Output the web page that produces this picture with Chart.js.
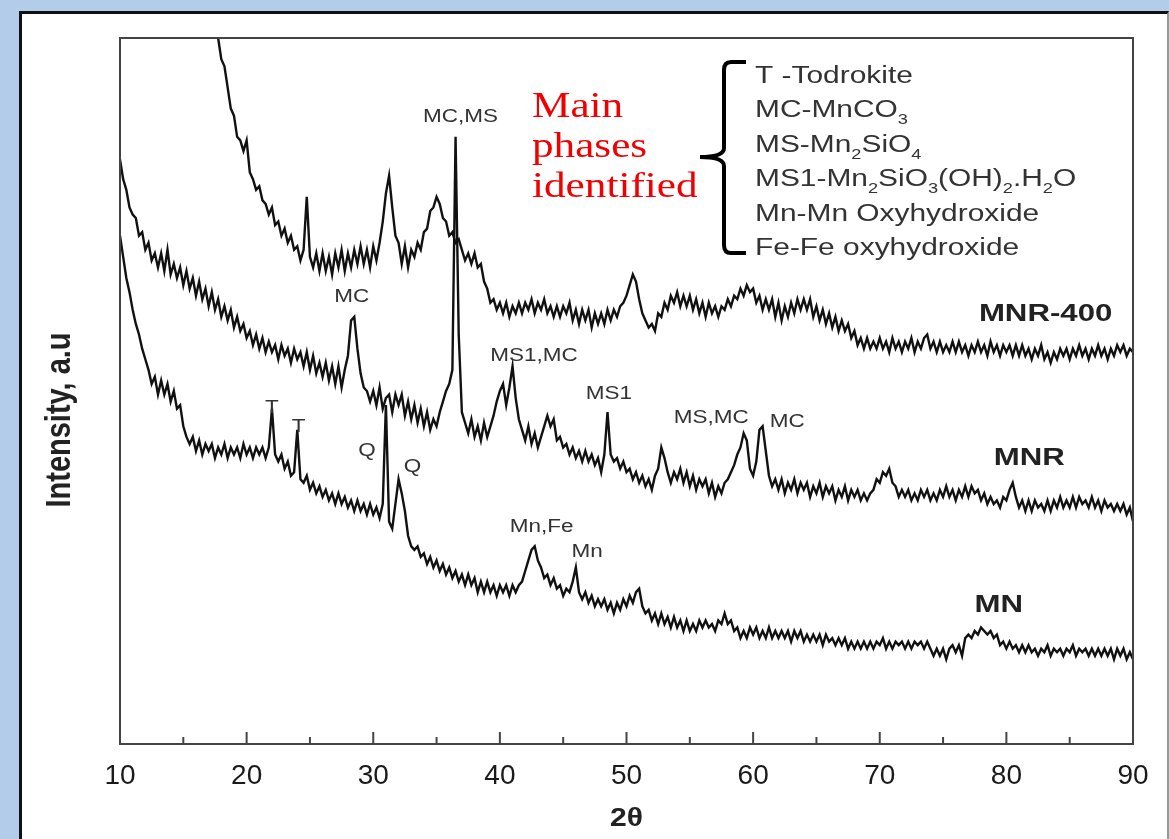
<!DOCTYPE html>
<html lang="en">
<head>
    <meta charset="UTF-8">
    <title>XRD patterns - MN, MNR, MNR-400</title>
    <script src="https://cdn.jsdelivr.net/npm/chart.js"></script>
    <style>
        body { margin: 0; background: #b3cce9; width: 1169px; height: 839px; overflow: hidden; }
        .panel { position: absolute; left: 19px; top: 11px; width: 1145px; height: 840px; background: #fff;
                 border-left: 3px solid #111; border-top: 3px solid #111; border-right: 2px solid #999; }
        .wrap { position: absolute; left: 0; top: 0; width: 1169px; height: 839px; }
    </style>
</head>
<body>
    <div class="panel"></div>
    <div class="wrap"><canvas id="xrdChart"></canvas></div>

    <script>
        // 2-theta grid, 0.25 deg steps from 10 to 90
        const twoTheta = Array.from({ length: 321 }, (_, i) => 10 + i * 0.25);

        // intensities (a.u.), one value per grid step
        const mnr400 = [
            null, null, null, null, null, null, null, null,
            null, null, null, null, null, null, null, null,
            null, null, null, null, null, null, null, null,
            null, null, null, null, null, null, 104, 100,
            97, 96, 93, 90, 89, 86, 85.5, 84,
            85.5, 81, 80, 78.5, 79, 77, 76.5, 75,
            76, 73.5, 74, 72, 73, 71, 72, 70,
            70.5, 68.5, 70, 77.5, 69, 67.5, 69.5, 67,
            69.5, 67, 69, 66.5, 69.5, 67.5, 70, 67,
            69.5, 67.5, 70, 68, 70.5, 68, 70, 67.5,
            70.5, 68.5, 71, 74, 78, 80.5, 76, 72,
            71, 68, 70.5, 67.5, 70, 69, 71, 70,
            72.5, 73, 75.5, 76, 77.5, 76.5, 74.5, 74,
            72, 72.5, 71, 71.5, 70, 68.5, 69.5, 68,
            69.5, 67.5, 68, 65.5, 64.5, 62.5, 63, 61.5,
            62.5, 61, 62.5, 60.5, 62, 61, 62.5, 61,
            62.5, 61.5, 63, 61, 62.5, 61.5, 63, 61,
            62, 60.5, 62, 60.5, 62, 61, 62.5, 60,
            61.5, 59.5, 61.5, 60, 61.5, 59, 61, 59.5,
            61, 59.5, 61.5, 60, 61.5, 60.5, 62, 62.5,
            63.5, 65, 66.5, 65.5, 63, 61, 60, 59,
            59.5, 58.5, 61, 60.5, 62.5, 61.5, 63.5, 62.5,
            64, 62, 63.5, 62, 63.5, 61.5, 63, 61,
            62.5, 60.5, 62.5, 61, 62, 60.5, 62, 61.5,
            63, 62, 63.5, 63, 64.5, 63.5, 65, 64,
            64.5, 62.5, 63.5, 61.5, 63, 61.5, 63, 60.5,
            62.5, 60, 62, 60.5, 62.5, 61, 63, 61.5,
            63, 61.5, 63, 60.5, 62, 60, 61.5, 59.5,
            61, 59, 60.5, 58.5, 60, 58.5, 59.5, 57.5,
            58.5, 56.5, 57.5, 56, 57.5, 56, 57, 56,
            57.5, 56, 57, 55.5, 57.5, 56, 57, 55.5,
            57, 56, 57.5, 55.5, 57, 56, 57.5, 58,
            56, 57, 55.5, 57, 55.5, 56.5, 55.5, 57,
            55.5, 57, 55.5, 56.5, 55, 56.5, 55.5, 57,
            55.5, 56.5, 55, 57, 55.5, 56.5, 55, 56.5,
            55.5, 56.5, 55, 56.5, 55, 56.5, 55, 56,
            54.5, 56, 55, 56.5, 54.5, 55.5, 54, 55.5,
            54.5, 56, 55, 56, 54.5, 56, 55, 56.5,
            55, 56, 54.5, 56, 55, 56.5, 55, 56,
            54.5, 56, 55, 56.5, 55.5, 56.5, 55, 56,
            55.5
        ];

        const mnr = [
            82.8, 80, 78.5, 76, 75, 74.5, 72, 72.5,
            70, 71, 68.5, 69.5, 67.5, 69.5, 67, 70,
            66.5, 68, 66, 67.5, 65, 67, 64.5, 66,
            63.5, 65.5, 63, 64.5, 62, 64, 61.5, 63,
            60.5, 62, 60, 61.5, 59, 60.5, 58.5, 59.5,
            57.5, 58.5, 56.5, 58, 56, 57.5, 55.5, 57,
            55.5, 56.5, 54.5, 56.5, 55, 56, 54, 56,
            54.5, 55.5, 53.5, 55.5, 53, 55, 52.5, 54,
            52, 54, 51.5, 53.5, 51, 53.5, 50.5, 53,
            55, 60, 60.5, 56, 52.5, 50.5, 50, 48.5,
            50, 48, 50.5, 47.5, 49, 49.5, 47, 49.5,
            48, 49.5, 46.5, 48.5, 46, 48, 45.5, 47.5,
            45, 47, 44.5, 46, 45, 47, 48.5, 50,
            51, 53, 86, 58, 47, 45.5, 44, 46,
            43.5, 45, 43, 45.5, 43.5, 45, 46.5, 48.5,
            50, 51, 48, 50.5, 53.5, 49, 46, 44.5,
            43, 45, 42.5, 44, 42, 43.5, 45, 46.5,
            45, 46, 43, 43.5, 42, 42.5, 41, 42,
            40.5, 41.5, 40, 41.5, 40, 41, 39.5, 40.5,
            38.5, 41, 47, 41, 40, 40.5, 39, 40,
            38.5, 39, 37.5, 38.5, 37, 38, 36.5, 37.5,
            36, 38, 39, 42, 40.5, 38.5, 37, 38.5,
            37.5, 39, 37, 38.5, 36.5, 38, 36, 37.5,
            36.5, 37.5, 35.5, 37, 35, 36.5, 35.5, 37,
            37.5, 38.5, 39.5, 41, 42, 44, 43, 39,
            38, 40, 44.5, 45, 41.5, 38, 36.5, 37.5,
            36, 37.5, 35.5, 37, 36, 37.5, 35.5, 37,
            36, 37, 35, 36.5, 35.5, 37, 35, 36.5,
            35.5, 36.5, 34.5, 36, 35, 36.5, 34.5, 36,
            35, 36, 34.5, 35.5, 34.5, 35.5, 36, 37.5,
            37, 38.5, 38, 39, 37, 36.5, 35, 36,
            35, 36, 34.5, 35.5, 34.5, 36, 35, 36,
            34.5, 35.5, 34.5, 36, 35, 36.5, 35, 36,
            34.5, 36, 35, 36.5, 35, 36.5, 35.5, 36,
            34.5, 35.5, 34, 35, 34, 34.5, 33.5, 35,
            34.5, 36, 37, 35, 33.5, 34.5, 33, 34.5,
            33, 34.5, 33.5, 34, 33, 34.5, 33, 34.5,
            33.5, 35, 33.5, 34.5, 33.5, 35, 33.5, 35,
            34, 34.5, 33.5, 35, 33.5, 34.5, 33, 34.5,
            33.5, 34, 33, 34, 33, 34, 32.5, 33.5,
            31.5
        ];

        const mn = [
            72, 69, 66, 64, 61.5, 59.5, 58, 56,
            54.5, 53, 51, 52, 49.5, 51.5, 49.5, 51,
            48.5, 50, 47.5, 48, 45, 43.5, 42.5, 43.5,
            41.5, 43, 41, 42.5, 41.5, 42.5, 40.5, 42,
            41, 42.5, 40.5, 42, 41, 42, 40.5, 42.5,
            41, 42, 40.5, 42, 41, 42, 40.5, 42,
            47.5, 41, 40, 41, 39, 40, 38, 38.5,
            44.5, 37.5, 37, 38, 36, 37, 35.5, 36.5,
            35, 36, 34.5, 35.5, 34, 35.5, 34, 35,
            33.5, 34.5, 33, 34.5, 33, 34, 32.5, 34,
            32.5, 33.5, 32, 34, 48, 31.5, 30.5, 34,
            37.5, 35.5, 33, 29.5, 28, 27.5, 28, 26.5,
            27, 25.5, 26.5, 25, 26, 24.5, 25.5, 24,
            25, 23.5, 24.5, 23, 24, 22.5, 24, 22.5,
            23.5, 21.5, 23, 21.5, 23, 21.5, 22.5, 21,
            22.5, 21.5, 22.5, 21, 22.5, 21.5, 22.5, 23,
            24.5, 26, 27.5, 28, 26, 25, 23.5, 24,
            22.5, 23.5, 22, 22.5, 21, 22, 21.5, 23,
            25, 21.5, 20.5, 21.5, 20, 21, 19.5, 20.5,
            19.5, 20.5, 19, 20, 18.5, 20, 19, 20.5,
            19.5, 21, 20, 21.5, 22, 19.5, 18.5, 19,
            17.5, 18.5, 17, 18.5, 17, 18, 16.5, 18,
            16.5, 17.5, 16, 17.5, 16, 17, 16, 17.5,
            16.5, 17.5, 16.5, 17, 16, 17.5, 17, 18.5,
            17, 17.5, 16, 16.5, 15, 16, 15, 16.5,
            15.5, 16.5, 15, 16, 15, 16.5, 15, 16,
            15, 16, 15, 16, 14.5, 16, 15, 16,
            14.5, 15.5, 14.5, 15.5, 14.5, 15.5, 14, 15.5,
            14.5, 15, 14, 15, 14, 15, 13.5, 14.5,
            13.5, 14.5, 13.5, 14.5, 13.5, 14.5, 13.5, 14.5,
            14, 15, 13.5, 14.5, 13.5, 14.5, 14, 14.5,
            13.5, 14.5, 13.5, 14.5, 14, 14.5, 13.5, 14.5,
            13.5, 12.5, 13.5, 12.5, 13.5, 12, 13.5, 14,
            13, 14, 12.5, 15, 15.5, 15, 16, 15.5,
            16.5, 16, 15.5, 16, 15, 15.5, 14, 14.5,
            13.5, 14.5, 13.5, 14, 13, 14, 13, 14,
            13, 13.5, 12.5, 13.5, 13, 14, 12.5, 13.5,
            13, 13.5, 12.5, 13.5, 13, 14, 12.5, 13.5,
            13, 13.5, 12.5, 13.5, 12.5, 13.5, 12.5, 13.5,
            12.5, 13.5, 12, 13.5, 12.5, 13.5, 12, 13,
            12
        ];

        const xTicks = [10, 20, 30, 40, 50, 60, 70, 80, 90];

        // peak labels: [text, 2theta, intensity]
        const peakLabels = [
            ["MC,MS", 36.9, 88.8], ["MC", 28.3, 63.3], ["MS1,MC", 42.7, 55.0], ["MS1", 48.6, 49.6],
            ["MS,MC", 56.7, 46.2], ["MC", 62.7, 45.6], ["T", 22.0, 47.6], ["T", 24.1, 44.9],
            ["Q", 29.5, 41.5], ["Q", 33.1, 39.2], ["Mn,Fe", 43.3, 30.7], ["Mn", 46.9, 27.2]
        ];
        const sampleLabels = [["MNR-400", 83.1, 60.9], ["MNR", 81.8, 40.5], ["MN", 79.4, 19.7]];

        // phase key; second item 1 = subscript
        const phaseLines = [
            [["T -Todrokite"]],
            [["MC-MnCO"], ["3", 1]],
            [["MS-Mn"], ["2", 1], ["SiO"], ["4", 1]],
            [["MS1-Mn"], ["2", 1], ["SiO"], ["3", 1], ["(OH)"], ["2", 1], [".H"], ["2", 1], ["O"]],
            [["Mn-Mn Oxyhydroxide"]],
            [["Fe-Fe oxyhydroxide"]]
        ];
        const redNote = ["Main", "phases", "identified"];

        const SANS = '"Liberation Sans", Arial, sans-serif';
        const SERIF = '"Liberation Serif", "Times New Roman", serif';

        function wideText(ctx, text, x, y, font, color, sx, align) {
            ctx.save();
            ctx.font = font;
            ctx.fillStyle = color;
            ctx.textAlign = align || "center";
            ctx.textBaseline = "middle";
            ctx.translate(x, y);
            ctx.scale(sx, 1);
            ctx.fillText(text, 0, 0);
            ctx.restore();
        }

        const decor = {
            id: "decor",
            afterDraw(chart) {
                const { ctx, chartArea: a, scales: { x, y } } = chart;
                ctx.save();

                // plot frame + inward ticks
                ctx.strokeStyle = "#444";
                ctx.lineWidth = 2;
                ctx.strokeRect(a.left, a.top, a.right - a.left, a.bottom - a.top);
                for (let t = 15; t < 90; t += 5) {
                    const px = x.getPixelForValue(t);
                    ctx.beginPath();
                    ctx.moveTo(px, a.bottom);
                    ctx.lineTo(px, a.bottom - (t % 10 === 0 ? 12 : 7));
                    ctx.stroke();
                }

                // axis titles
                ctx.save();
                ctx.translate(60, 420);
                ctx.scale(1.2, 1);
                ctx.rotate(-Math.PI / 2);
                ctx.font = "bold 29px " + SANS;
                ctx.fillStyle = "#222";
                ctx.textAlign = "center";
                ctx.textBaseline = "middle";
                ctx.fillText("Intensity, a.u", 0, 0);
                ctx.restore();
                wideText(ctx, "2θ", x.getPixelForValue(50), 819, "bold 25px " + SANS, "#222", 1.2);

                // peak and sample labels
                peakLabels.forEach(([t, tx, ty]) => {
                    wideText(ctx, t, x.getPixelForValue(tx), y.getPixelForValue(ty), "18px " + SANS, "#333", 1.25);
                });
                sampleLabels.forEach(([t, tx, ty]) => {
                    wideText(ctx, t, x.getPixelForValue(tx), y.getPixelForValue(ty), "bold 24px " + SANS, "#222", 1.3);
                });

                // red note
                redNote.forEach((t, i) => {
                    ctx.save();
                    ctx.font = "36px " + SERIF;
                    ctx.fillStyle = "#f00000";
                    ctx.textBaseline = "alphabetic";
                    ctx.translate(532, 117 + i * 40);
                    ctx.scale(1.2, 1);
                    ctx.fillText(t, 0, 0);
                    ctx.restore();
                });

                // brace
                ctx.strokeStyle = "#000";
                ctx.lineWidth = 4;
                ctx.beginPath();
                ctx.moveTo(746, 62); ctx.lineTo(731, 62);
                ctx.quadraticCurveTo(724, 62, 724, 70);
                ctx.lineTo(724, 148);
                ctx.quadraticCurveTo(724, 157, 700, 157);
                ctx.quadraticCurveTo(724, 157, 724, 166);
                ctx.lineTo(724, 245);
                ctx.quadraticCurveTo(724, 253, 731, 253);
                ctx.lineTo(746, 253);
                ctx.stroke();

                // phase key
                const sx = 1.3;
                phaseLines.forEach((parts, i) => {
                    let cx = 755;
                    const base = 83 + i * 34.4;
                    parts.forEach(([t, sub]) => {
                        ctx.save();
                        ctx.font = (sub ? "14px " : "23px ") + SANS;
                        ctx.fillStyle = "#333";
                        ctx.textBaseline = "alphabetic";
                        ctx.translate(cx, base + (sub ? 7 : 0));
                        ctx.scale(sx, 1);
                        ctx.fillText(t, 0, 0);
                        cx += ctx.measureText(t).width * sx;
                        ctx.restore();
                    });
                });
                ctx.restore();
            }
        };

        function series(values) {
            return twoTheta.map((t, i) => ({ x: t, y: values[i] }));
        }

        const lineStyle = { borderColor: "#111", borderWidth: 2.4, pointRadius: 0, tension: 0, fill: false };

        new Chart(document.getElementById("xrdChart"), {
            type: "line",
            data: {
                datasets: [
                    { label: "MNR-400", data: series(mnr400), ...lineStyle },
                    { label: "MNR", data: series(mnr), ...lineStyle },
                    { label: "MN", data: series(mn), ...lineStyle }
                ]
            },
            options: {
                responsive: true,
                maintainAspectRatio: false,
                animation: false,
                layout: { padding: { top: 38, right: 36, left: 0, bottom: 0 } },
                plugins: { legend: { display: false }, tooltip: { enabled: false } },
                scales: {
                    x: {
                        type: "linear",
                        min: 10,
                        max: 90,
                        afterBuildTicks: s => { s.ticks = xTicks.map(v => ({ value: v })); },
                        afterFit: s => { s.height = 95; },
                        grid: { display: false, drawTicks: false },
                        border: { display: false },
                        ticks: { color: "#1a1a1a", padding: 15, maxRotation: 0, autoSkip: false,
                                 font: { family: SANS, size: 28 } }
                    },
                    y: {
                        min: 0,
                        max: 100,
                        afterFit: s => { s.width = 120; },
                        grid: { display: false, drawTicks: false },
                        border: { display: false },
                        ticks: { display: false }
                    }
                }
            },
            plugins: [decor]
        });
    </script>
</body>
</html>
